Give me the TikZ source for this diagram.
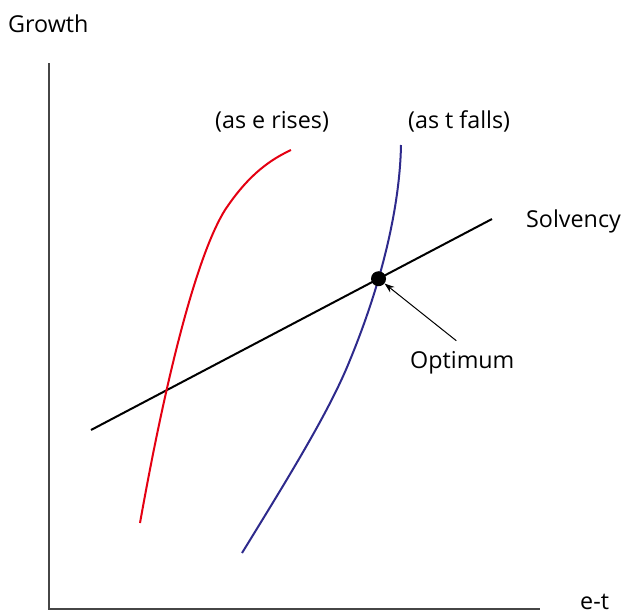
\documentclass[tikz,border=0pt]{standalone}
\usepackage{fontspec}
\setmainfont{Open Sans}
\usetikzlibrary{arrows.meta, intersections, positioning}
\definecolor{riseRed}{RGB}{228,0,18}
\definecolor{fallBlue}{RGB}{46,42,140}
\definecolor{axisGray}{RGB}{70,70,70}

\begin{document}
\begin{tikzpicture}[x=1pt, y=-1pt, font=\fontsize{23.3}{28}\selectfont,
  axis/.style={axisGray, line width=1.5pt},
  curve/.style={line width=2pt},
  lbl/.style={inner sep=0pt, anchor=base west}]
  \useasboundingbox (0,0) rectangle (625,614);

  % Axes
  \coordinate (O) at (49,609);
  \coordinate (Ytop) at (49,63);
  \coordinate (Xend) at (540,609);
  \draw[axis] (Ytop) -- (O) -- (Xend);
  \node[lbl] (growth) at (8,32) {Growth};
  \node[lbl] (et) at (580,609) {e-t};

  % Solvency line
  \coordinate (S1) at (91,430);
  \coordinate (S2) at (492,219);
  \draw[curve, name path=solv] (S1) -- (S2);
  \node[lbl] (solvency) at (526,227) {Solvency};

  % Curve as e rises (red)
  \coordinate (R1) at (140,523);
  \coordinate (R2) at (291,150);
  \draw[curve, riseRed] (R1) .. controls (170,355) and (200,250) .. (225,210)
    .. controls (245,180) and (265,162) .. (R2);
  \node[lbl] (riseLbl) at (215,128) {(as e rises)};

  % Curve as t falls (blue)
  \coordinate (B1) at (242,553);
  \coordinate (B2) at (401,145);
  \draw[curve, fallBlue, name path=fall] (B1) .. controls (290,475) and (330,410) .. (350,360)
    .. controls (385,275) and (400,200) .. (B2);
  \node[lbl] (fallLbl) at (408,128) {(as t falls)};

  % Optimum
  \path[name intersections={of=solv and fall, by=opt}];
  \node[circle, fill=black, minimum size=15pt, inner sep=0pt] (dot) at (opt) {};
  \node[lbl] (optLbl) at (410,368) {Optimum};
  \draw[-{Stealth[length=10pt, width=7pt]}, line width=1pt]
    ([xshift=-6pt, yshift=10pt]optLbl.north) -- (dot);
\end{tikzpicture}
\end{document}
